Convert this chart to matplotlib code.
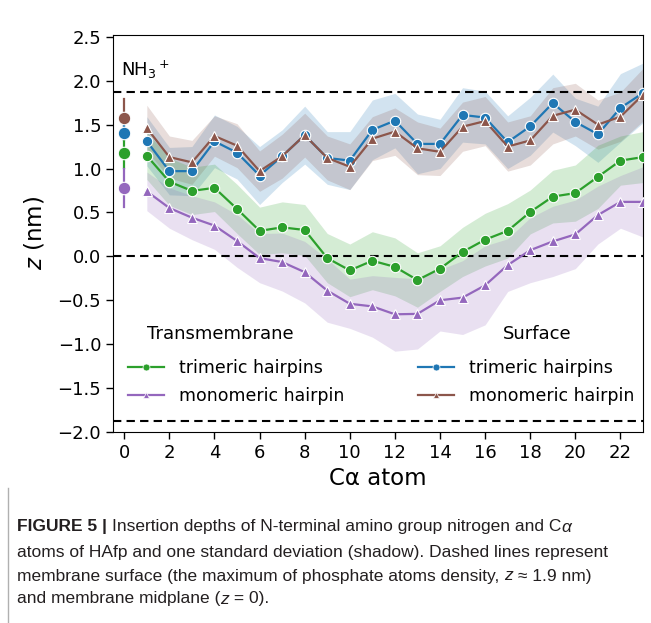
import matplotlib
matplotlib.use("Agg")
import matplotlib.pyplot as plt
from matplotlib.lines import Line2D
import numpy as np

# C-alpha atom index and N-terminal position
atoms = list(range(1, 24))
nterm_x = 0

# surface, trimeric hairpins (blue)
surf_tri = [1.31, 0.97, 0.97, 1.31, 1.18, 0.92, 1.14, 1.38, 1.12, 1.09, 1.44, 1.545,
            1.28, 1.28, 1.61, 1.58, 1.30, 1.48, 1.745, 1.53, 1.39, 1.69, 1.86]
surf_tri_sd = [0.28, 0.27, 0.28, 0.30, 0.30, 0.33, 0.30, 0.33, 0.30, 0.33, 0.34, 0.31,
               0.34, 0.28, 0.31, 0.30, 0.30, 0.33, 0.33, 0.27, 0.32, 0.39, 0.34]
# surface, monomeric hairpin (brown)
surf_mono = [1.46, 1.13, 1.07, 1.37, 1.26, 0.97, 1.14, 1.38, 1.12, 1.02, 1.34, 1.42,
             1.23, 1.19, 1.476, 1.54, 1.25, 1.32, 1.60, 1.67, 1.50, 1.59, 1.84]
surf_mono_sd = [0.26, 0.24, 0.25, 0.23, 0.25, 0.23, 0.25, 0.25, 0.25, 0.26, 0.25, 0.27,
                0.30, 0.27, 0.28, 0.28, 0.28, 0.28, 0.32, 0.30, 0.28, 0.28, 0.30]
# transmembrane, trimeric hairpins (green)
tm_tri = [1.145, 0.85, 0.745, 0.78, 0.54, 0.29, 0.33, 0.30, -0.02, -0.16, -0.05, -0.12,
          -0.27, -0.14, 0.05, 0.19, 0.29, 0.505, 0.68, 0.72, 0.905, 1.09, 1.13]
tm_tri_sd = [0.27, 0.27, 0.27, 0.27, 0.28, 0.27, 0.29, 0.29, 0.28, 0.30, 0.33, 0.33,
             0.31, 0.26, 0.28, 0.30, 0.31, 0.25, 0.30, 0.32, 0.36, 0.28, 0.29]
# transmembrane, monomeric hairpin (purple)
tm_mono = [0.74, 0.55, 0.44, 0.35, 0.175, -0.02, -0.065, -0.18, -0.39, -0.54, -0.57, -0.66,
           -0.655, -0.50, -0.47, -0.33, -0.10, 0.07, 0.17, 0.25, 0.47, 0.62, 0.62]
tm_mono_sd = [0.22, 0.23, 0.25, 0.27, 0.30, 0.28, 0.33, 0.35, 0.36, 0.28, 0.35, 0.42,
              0.40, 0.35, 0.42, 0.45, 0.30, 0.37, 0.40, 0.39, 0.33, 0.30, 0.40]

# N-terminal NH3+ nitrogen (mean, sd): brown, blue, green, purple
nterm_mean = [1.57, 1.40, 1.18, 0.78]
nterm_sd = [0.22, 0.08, 0.17, 0.22]

surface_z = 1.87

c_blue, c_brown, c_green, c_purple = "#1f77b4", "#8c564b", "#2ca02c", "#9467bd"

fig = plt.figure(figsize=(6.51, 6.23), dpi=100)
ax = fig.add_axes([113/651, 1-432/623, 530/651, 397/623])

series = [
    (surf_tri, surf_tri_sd, c_blue, "o"),
    (surf_mono, surf_mono_sd, c_brown, "^"),
    (tm_tri, tm_tri_sd, c_green, "o"),
    (tm_mono, tm_mono_sd, c_purple, "^"),
]
for vals, sd, col, mk in series:
    v = np.array(vals)
    s = np.array(sd)
    ax.fill_between(atoms, v - s, v + s, color=col, alpha=0.2, lw=0)
for vals, sd, col, mk in series:
    ax.plot(atoms, vals, color=col, lw=1.6, marker=mk, ms=7.5,
            mec="white", mew=0.8, zorder=3)

# N-terminal points with error bars
ncols = [c_brown, c_blue, c_green, c_purple]
for m, s, col in zip(nterm_mean, nterm_sd, ncols):
    ax.plot([nterm_x, nterm_x], [m - s, m + s], color=col, lw=1.6, zorder=3)
for m, col in zip(nterm_mean, ncols):
    ax.plot(nterm_x, m, marker="o", ms=9, color=col, mec="white", mew=0.8, zorder=4)

for yy in (surface_z, 0, -surface_z):
    ax.axhline(yy, color="black", ls=(0, (4, 2.5)), lw=1.5, zorder=2)

ax.text(-0.15, 2.12, "NH$_3{}^+$", fontsize=13, va="center", ha="left")

ax.set_xlim(-0.5, 23)
ax.set_ylim(-2.0, 2.52)
ax.set_xticks(range(0, 23, 2))
ax.set_yticks(np.arange(-2.0, 2.51, 0.5))
ax.set_yticklabels([f"{t:.1f}".replace("-", "\u2212") for t in np.arange(-2.0, 2.51, 0.5)])
ax.tick_params(labelsize=13, length=5, width=1)
ax.set_xlabel("C\u03b1 atom", fontsize=16.5, labelpad=4)
ax.set_ylabel("$z$ (nm)", fontsize=16.5, labelpad=8)

h_tri_tm = Line2D([], [], color=c_green, marker="o", ms=5, lw=1.6, mec="white", mew=0.5)
h_mono_tm = Line2D([], [], color=c_purple, marker="^", ms=5, lw=1.6, mec="white", mew=0.5)
h_tri_s = Line2D([], [], color=c_blue, marker="o", ms=5, lw=1.6, mec="white", mew=0.5)
h_mono_s = Line2D([], [], color=c_brown, marker="^", ms=5, lw=1.6, mec="white", mew=0.5)

# group titles
ax.text(0.064, 0.247, "Transmembrane", transform=ax.transAxes, fontsize=13,
        ha="left", va="center")
ax.text(0.736, 0.247, "Surface", transform=ax.transAxes, fontsize=13,
        ha="left", va="center")

leg_kw = dict(frameon=False, fontsize=12.5, loc="upper left",
              borderaxespad=0, borderpad=0, handlelength=2.1, handletextpad=0.85,
              labelspacing=0.55)
leg1 = ax.legend([h_tri_tm, h_mono_tm], ["trimeric hairpins", "monomeric hairpin"],
                 bbox_to_anchor=(0.028, 0.183), **leg_kw)
ax.add_artist(leg1)
ax.legend([h_tri_s, h_mono_s], ["trimeric hairpins", "monomeric hairpin"],
          bbox_to_anchor=(0.575, 0.183), **leg_kw)

# caption below the figure
cap_font = ["Liberation Sans", "DejaVu Sans"]
fig.add_artist(Line2D([7.5/651, 7.5/651], [0, 1-488/623], color="#b0b0b0", lw=1,
                      transform=fig.transFigure))

lines = [
    [("FIGURE 5 | ", "bold", "normal"),
     ("Insertion depths of N-terminal amino group nitrogen and C", "normal", "normal"),
     ("\u03b1", "normal", "italic")],
    [("atoms of HAfp and one standard deviation (shadow). Dashed lines represent", "normal", "normal")],
    [("membrane surface (the maximum of phosphate atoms density, ", "normal", "normal"),
     ("z", "normal", "italic"), (" \u2248 1.9 nm)", "normal", "normal")],
    [("and membrane midplane (", "normal", "normal"), ("z", "normal", "italic"),
     (" = 0).", "normal", "normal")],
]
line_y = [527, 552, 576, 599]
renderer = fig.canvas.get_renderer()

# size the caption so the second line spans the same width as in the page
probe = fig.text(0, 0, lines[1][0][0], family=cap_font, fontsize=13)
w = probe.get_window_extent(renderer=renderer).width
probe.remove()
cap_size = 13 * 590 / w

for segs, yy in zip(lines, line_y):
    xpix = 17
    for txt, wt, st in segs:
        t = fig.text(xpix/651, 1-yy/623, txt, family=cap_font, fontsize=cap_size,
                     weight=wt, style=st, va="center", ha="left", color="#231f20")
        bb = t.get_window_extent(renderer=renderer)
        xpix += bb.width

fig.savefig("out.png", dpi=100)
